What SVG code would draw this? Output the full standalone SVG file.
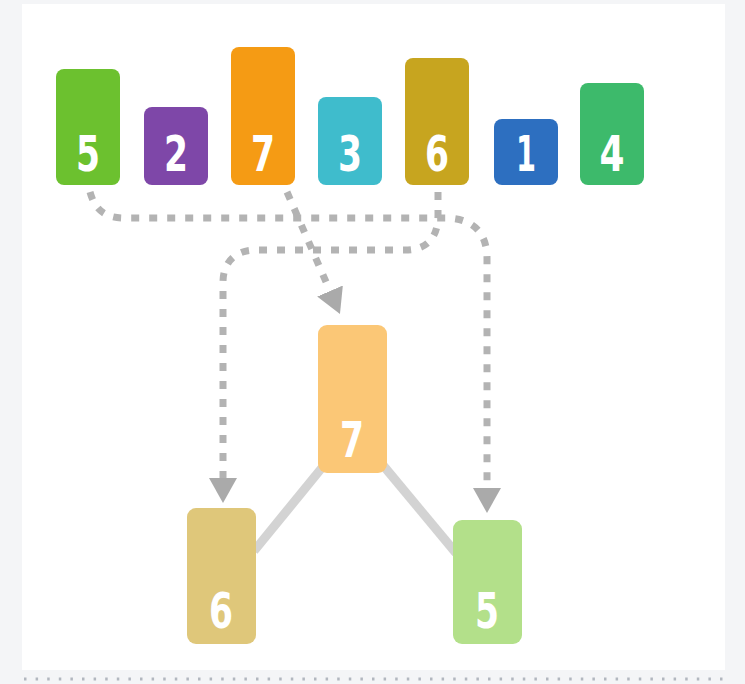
<svg xmlns="http://www.w3.org/2000/svg" width="745" height="684" viewBox="0 0 745 684">
<defs>
<style>
.lbl{font-family:"DejaVu Sans Condensed","DejaVu Sans","Liberation Sans",sans-serif;font-weight:bold;font-size:50px;fill:#ffffff;text-anchor:middle}
.dash{fill:none;stroke:#b3b3b3;stroke-width:7;stroke-dasharray:8 10}
.edge{stroke:#d3d3d3;stroke-width:9;stroke-linecap:butt}
</style>
<marker id="arr" markerUnits="userSpaceOnUse" markerWidth="30" markerHeight="32" refX="0" refY="15" orient="auto" viewBox="0 0 30 32">
<path d="M0,1 L25,15 L0,29 z" fill="#aaaaaa"/>
</marker>
</defs>
<rect x="0" y="0" width="745" height="684" fill="#f4f5f7"/>
<rect x="22" y="4" width="703" height="666" fill="#ffffff"/>
<line x1="24" y1="679" x2="724" y2="679" stroke="#b2b7bf" stroke-width="3" stroke-dasharray="2.5 9.1"/>

<g id="tree-edges">
<line class="edge" x1="325" y1="464" x2="254" y2="551"/>
<line class="edge" x1="382" y1="464" x2="456" y2="553"/>
</g>

<g id="top-5"><rect x="56" y="69" width="64" height="116" rx="8" fill="#6cc12f"/><text class="lbl" x="88" y="171" textLength="24" lengthAdjust="spacingAndGlyphs">5</text></g>
<g id="top-2"><rect x="144" y="107" width="64" height="78" rx="8" fill="#7e47a8"/><text class="lbl" x="176" y="171" textLength="24" lengthAdjust="spacingAndGlyphs">2</text></g>
<g id="top-7"><rect x="231" y="47" width="64" height="138" rx="8" fill="#f59b14"/><text class="lbl" x="263" y="171" textLength="24" lengthAdjust="spacingAndGlyphs">7</text></g>
<g id="top-3"><rect x="318" y="97" width="64" height="88" rx="8" fill="#3fbccc"/><text class="lbl" x="350" y="171" textLength="24" lengthAdjust="spacingAndGlyphs">3</text></g>
<g id="top-6"><rect x="405" y="58" width="64" height="127" rx="8" fill="#c7a51f"/><text class="lbl" x="437" y="171" textLength="24" lengthAdjust="spacingAndGlyphs">6</text></g>
<g id="top-1"><rect x="494" y="119" width="64" height="66" rx="8" fill="#2d6fc0"/><text class="lbl" x="526" y="171" textLength="20" lengthAdjust="spacingAndGlyphs">1</text></g>
<g id="top-4"><rect x="580" y="83" width="64" height="102" rx="8" fill="#3dba6b"/><text class="lbl" x="612" y="171" textLength="25" lengthAdjust="spacingAndGlyphs">4</text></g>

<g id="heap-7"><rect x="318" y="325" width="69" height="148" rx="9" fill="#fbc776"/><text class="lbl" x="352" y="457" textLength="24" lengthAdjust="spacingAndGlyphs">7</text></g>
<g id="heap-6"><rect x="187" y="508" width="69" height="136" rx="9" fill="#dfc77a"/><text class="lbl" x="221" y="628" textLength="24" lengthAdjust="spacingAndGlyphs">6</text></g>
<g id="heap-5"><rect x="453" y="520" width="69" height="124" rx="9" fill="#b3e08a"/><text class="lbl" x="487" y="628" textLength="24" lengthAdjust="spacingAndGlyphs">5</text></g>

<g id="connectors">
<path class="dash" d="M 90 192 C 95 210 105 218 125 218 L 445 218 C 472 218 487 232 487 258 L 487 488" marker-end="url(#arr)"/>
<path class="dash" d="M 438 192 L 438 215 C 438 240 425 250 405 250 L 255 250 C 236 250 223 262 223 282 L 223 478" marker-end="url(#arr)"/>
<path class="dash" d="M 287 192 L 330 291" marker-end="url(#arr)"/>
</g>
</svg>
